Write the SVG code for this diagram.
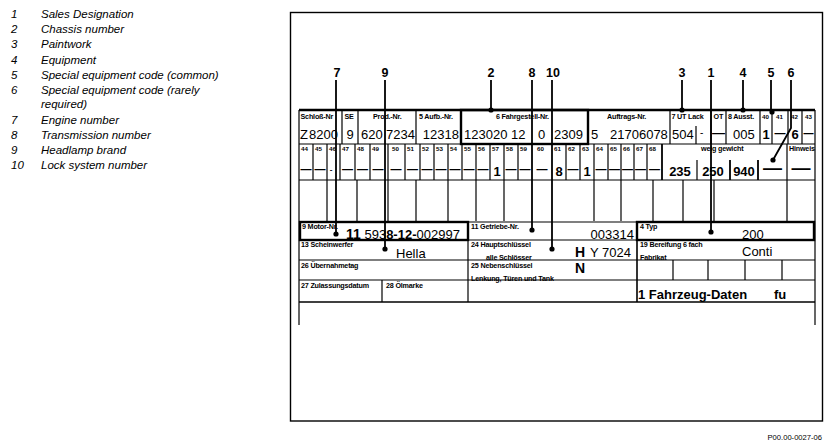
<svg xmlns="http://www.w3.org/2000/svg" width="836" height="448" viewBox="0 0 836 448">
<style>
text{font-family:"Liberation Sans",Arial,sans-serif;fill:#000}
.leg{font-size:11.5px;font-style:italic}
.num{font-size:12.5px;font-weight:bold;text-anchor:middle}
.lbl{font-size:7.2px;font-weight:bold;letter-spacing:-0.2px}
.nl{font-size:6.2px;font-weight:bold}
.val{font-size:13px}
.b{font-weight:bold}
.c{text-anchor:middle}
.r{text-anchor:end}
.d{font-size:11px;font-weight:bold;text-anchor:middle}
.dl{font-weight:bold;text-anchor:middle}
.ln{stroke:#000;stroke-width:1.2;fill:none}
.th{stroke:#000;stroke-width:2.4;fill:none}
.ld{stroke:#000;stroke-width:1.8;fill:none}
.dot{fill:#000}
</style>
<rect width="836" height="448" fill="#fff"/>

<g id="legend">
<g id="leg1"><text class="leg" x="11" y="18">1</text><text class="leg" x="41" y="18">Sales Designation</text></g>
<g id="leg2"><text class="leg" x="11" y="33">2</text><text class="leg" x="41" y="33">Chassis number</text></g>
<g id="leg3"><text class="leg" x="11" y="48">3</text><text class="leg" x="41" y="48">Paintwork</text></g>
<g id="leg4"><text class="leg" x="11" y="64">4</text><text class="leg" x="41" y="64">Equipment</text></g>
<g id="leg5"><text class="leg" x="11" y="79">5</text><text class="leg" x="41" y="79">Special equipment code (common)</text></g>
<g id="leg6"><text class="leg" x="11" y="94">6</text><text class="leg" x="41" y="94">Special equipment code (rarely</text><text class="leg" x="41" y="108">required)</text></g>
<g id="leg7"><text class="leg" x="11" y="124">7</text><text class="leg" x="41" y="124">Engine number</text></g>
<g id="leg8"><text class="leg" x="11" y="139">8</text><text class="leg" x="41" y="139">Transmission number</text></g>
<g id="leg9"><text class="leg" x="11" y="154">9</text><text class="leg" x="41" y="154">Headlamp brand</text></g>
<g id="leg10"><text class="leg" x="11" y="169">10</text><text class="leg" x="41" y="169">Lock system number</text></g>
</g>

<g id="frame">
<rect x="290.5" y="12.5" width="532" height="408.5" fill="none" stroke="#000" stroke-width="1.4"/>
<text x="822" y="440" style="font-size:7.6px" fill="#222" class="r">P00.00-0027-06</text>
</g>

<g id="form">
<line class="ln" x1="299" y1="110" x2="299" y2="325" stroke-width="1.6"/>
<line class="ln" x1="815" y1="110" x2="815" y2="325" stroke-width="1.6"/>
<line class="th" x1="299" y1="110" x2="815" y2="110" stroke-width="1.8"/>
<line class="ln" x1="299" y1="144" x2="815" y2="144" stroke-width="1.6"/>
<g class="ln" stroke-width="1.8">
<line x1="342" y1="110" x2="342" y2="144"/>
<line x1="358" y1="110" x2="358" y2="144"/>
<line x1="416" y1="110" x2="416" y2="144"/>
<line x1="670" y1="110" x2="670" y2="144"/>
<line x1="696" y1="126" x2="696" y2="144"/>
<line x1="711" y1="110" x2="711" y2="144"/>
<line x1="726" y1="110" x2="726" y2="144"/>
<line x1="760" y1="110" x2="760" y2="144"/>
<line x1="772" y1="110" x2="772" y2="144"/>
<line x1="788" y1="110" x2="788" y2="144"/>
<line x1="802" y1="110" x2="802" y2="144"/>
</g>
<rect class="th" x="461" y="110" width="127" height="34"/>

<text class="lbl" x="300.5" y="119">Schloß-Nr</text>
<text class="lbl" x="344.5" y="119">SE</text>
<text class="lbl" x="373" y="119">Prod.-Nr.</text>
<text class="lbl" x="419" y="119">5 Aufb.-Nr.</text>
<text class="lbl" x="496" y="119">6 Fahrgestell-Nr.</text>
<text class="lbl" x="607" y="119">Auftrags-Nr.</text>
<text class="lbl" x="671.5" y="119">7 UT Lack</text>
<text class="lbl" x="713.5" y="119">OT</text>
<text class="lbl" x="728" y="119">8 Ausst.</text>
<text class="nl" x="762" y="119">40</text>
<text class="nl" x="776" y="119">41</text>
<text class="nl" x="791" y="119">42</text>
<text class="nl" x="805" y="119">43</text>

<text class="val" x="300" y="139">Z</text>
<text class="val" x="309" y="139">8200</text>
<text class="val c" x="350" y="139">9</text>
<text class="val" x="361" y="139">620</text>
<text class="val" x="386" y="139">7234</text>
<text class="val r" x="459" y="139">12318</text>
<text class="val" x="464" y="139">123020  12</text>
<text class="val" x="538" y="139">0</text>
<text class="val" x="554" y="139">2309</text>
<text class="val" x="591" y="139">5</text>
<text class="val" x="610" y="139">21706078</text>
<text class="val" x="672" y="139">504</text>
<text x="700" y="136" style="font-size:10px">-</text>
<text class="dl" x="718.5" y="137" style="font-size:13px">—</text>
<text class="val" x="733" y="139">005</text>
<text class="val c b" x="766" y="139">1</text>
<text class="dl" x="780" y="137" style="font-size:11px">—</text>
<text class="val c b" x="795" y="139">6</text>
<text class="dl" x="808.5" y="137" style="font-size:10px">—</text>

<line class="ln" x1="299" y1="180" x2="815" y2="180" stroke-width="1.4"/>
<g class="ln">
<line x1="313" y1="144" x2="313" y2="180"/>
<line x1="327" y1="144" x2="327" y2="221"/>
<line x1="340" y1="144" x2="340" y2="180"/>
<line x1="355" y1="144" x2="355" y2="180"/>
<line x1="370" y1="144" x2="370" y2="180"/>
<line x1="388" y1="144" x2="388" y2="221"/>
<line x1="405" y1="144" x2="405" y2="180"/>
<line x1="420" y1="144" x2="420" y2="180"/>
<line x1="434" y1="144" x2="434" y2="180"/>
<line x1="448" y1="144" x2="448" y2="221"/>
<line x1="462" y1="144" x2="462" y2="180"/>
<line x1="476" y1="144" x2="476" y2="221"/>
<line x1="490" y1="144" x2="490" y2="180"/>
<line x1="504" y1="144" x2="504" y2="221"/>
<line x1="518" y1="144" x2="518" y2="180"/>
<line x1="566" y1="144" x2="566" y2="180"/>
<line x1="580" y1="144" x2="580" y2="180"/>
<line x1="594" y1="144" x2="594" y2="221"/>
<line x1="608" y1="144" x2="608" y2="180"/>
<line x1="621" y1="144" x2="621" y2="221"/>
<line x1="634" y1="144" x2="634" y2="180"/>
<line x1="647" y1="144" x2="647" y2="180"/>
<line x1="662" y1="144" x2="662" y2="180" stroke-width="1.8"/>
<line x1="697" y1="160" x2="697" y2="180"/>
<line x1="730" y1="160" x2="730" y2="180" stroke-width="1.8"/>
<line x1="758" y1="160" x2="758" y2="180" stroke-width="1.8"/>
<line x1="787" y1="144" x2="787" y2="221"/>
<line x1="357" y1="180" x2="357" y2="221"/>
<line x1="416" y1="180" x2="416" y2="221"/>
<line x1="653" y1="180" x2="653" y2="221"/>
<line x1="683" y1="180" x2="683" y2="221"/>
<line x1="714" y1="180" x2="714" y2="221"/>
</g>

<g class="nl">
<text x="301" y="151">44</text><text x="315" y="151">45</text><text x="329" y="151">46</text>
<text x="342" y="151">47</text><text x="357" y="151">48</text><text x="372" y="151">49</text>
<text x="392" y="151">50</text><text x="407" y="151">51</text><text x="422" y="151">52</text>
<text x="436" y="151">53</text><text x="450" y="151">54</text><text x="464" y="151">55</text>
<text x="478" y="151">56</text><text x="492" y="151">57</text><text x="506" y="151">58</text>
<text x="520" y="151">59</text><text x="537" y="151">60</text><text x="554" y="151">61</text>
<text x="568" y="151">62</text><text x="582" y="151">63</text><text x="596" y="151">64</text>
<text x="610" y="151">65</text><text x="623" y="151">66</text><text x="636" y="151">67</text>
<text x="649" y="151">68</text>
</g>
<text class="lbl" x="701" y="151">weig gewicht</text>
<text class="lbl" x="789" y="151">Hinweis</text>

<g>
<text class="d" x="306" y="173">—</text><text class="d" x="320" y="173">—</text><text class="d" x="331" y="172" style="font-size:8px">-</text>
<text class="d" x="347.5" y="173">—</text><text class="d" x="362.5" y="173">—</text><text class="d" x="378" y="173">—</text>
<text class="d" x="396" y="173">—</text><text class="d" x="412.5" y="173">—</text><text class="d" x="427" y="173">—</text>
<text class="d" x="441" y="173">—</text><text class="d" x="455" y="173">—</text><text class="d" x="469" y="173">—</text>
<text class="d" x="483" y="173">—</text><text class="val c b" x="497" y="176">1</text><text class="d" x="511" y="173">—</text>
<text class="d" x="525" y="173">—</text><text class="d" x="542" y="173">—</text><text class="val c b" x="559" y="176">8</text>
<text class="d" x="573" y="173">—</text><text class="val c b" x="587" y="176">1</text><text class="d" x="601" y="173">—</text>
<text class="d" x="614.5" y="173">—</text><text class="d" x="627.5" y="173">—</text><text class="d" x="640.5" y="173">—</text>
<text class="d" x="654.5" y="173">—</text>
<text class="val c b" x="680" y="176">235</text>
<text class="val c b" x="713" y="176">250</text>
<text class="val c b" x="744" y="176">940</text>
<text class="dl" x="772.5" y="174" style="font-size:19px">—</text>
<text class="dl" x="801" y="174" style="font-size:19px">—</text>
</g>

<line class="ln" x1="468" y1="222" x2="637" y2="222"/>
<line class="ln" x1="468" y1="240" x2="637" y2="240"/>
<rect class="th" x="300" y="222" width="168" height="18"/>
<rect class="th" x="637" y="222" width="177" height="18"/>
<text class="lbl" x="302" y="229">9 Motor-Nr.</text>
<text class="lbl" x="471" y="229">11 Getriebe-Nr.</text>
<text class="lbl" x="640" y="229">4 Typ</text>
<text class="val" x="346" y="238.5"><tspan class="b" style="font-size:14px">11</tspan> 593<tspan class="b">8-12-</tspan>002997</text>
<text class="val r" x="634" y="238.5">003314</text>
<text class="val" x="742" y="238.5">200</text>

<g class="ln">
<line x1="299" y1="260" x2="815" y2="260"/>
<line x1="299" y1="280" x2="815" y2="280"/>
<line x1="299" y1="302" x2="815" y2="302" stroke-width="1.4"/>
<line x1="468" y1="240" x2="468" y2="302"/>
<line x1="637" y1="240" x2="637" y2="302" stroke-width="1.6"/>
<line x1="382" y1="280" x2="382" y2="302"/>
<line x1="673" y1="260" x2="673" y2="280"/>
<line x1="708" y1="260" x2="708" y2="280"/>
<line x1="745" y1="260" x2="745" y2="280"/>
<line x1="782" y1="260" x2="782" y2="280"/>
</g>
<text class="lbl" x="301" y="247">13 Scheinwerfer</text>
<text class="val" x="396" y="258">Hella</text>
<text class="lbl" x="471" y="247">24 Hauptschlüssel</text>
<text class="lbl" x="486" y="260">alle Schlösser</text>
<text class="val b" x="575" y="257" style="font-size:14px">H</text>
<text class="val" x="590" y="257">Y 7024</text>
<text class="val b" x="575" y="273" style="font-size:14px">N</text>
<text class="lbl" x="640" y="247">19 Bereifung 6 fach</text>
<text class="lbl" x="640" y="259.5">Fabrikat</text>
<text class="val" x="742" y="256">Conti</text>
<text class="lbl" x="301" y="268">26 Übernahmetag</text>
<text class="lbl" x="471" y="268">25 Nebenschlüssel</text>
<text class="lbl" x="471" y="280.5">Lenkung, Türen und Tank</text>
<text class="lbl" x="301" y="288">27 Zulassungsdatum</text>
<text class="lbl" x="386" y="288">28 Ölmarke</text>
<text class="val b" x="638" y="298.5">1 Fahrzeug-Daten</text>
<text class="val b" x="774" y="298.5">fu</text>
</g>

<g id="connectors">
<g class="ld">
<line x1="336" y1="80" x2="336" y2="234"/>
<line x1="385" y1="80" x2="385" y2="249"/>
<line x1="491" y1="80" x2="491" y2="110"/>
<line x1="532" y1="80" x2="532" y2="230"/>
<line x1="552" y1="80" x2="552" y2="249"/>
<line x1="682" y1="80" x2="682" y2="110"/>
<line x1="711" y1="80" x2="711" y2="232"/>
<line x1="743" y1="80" x2="743" y2="110"/>
<line x1="771" y1="80" x2="771" y2="112"/>
<polyline points="791,80 791,128 773,160"/>
</g>
<g class="dot">
<circle cx="336" cy="234" r="2.6"/>
<circle cx="385" cy="249" r="2.6"/>
<circle cx="491" cy="110" r="2.6"/>
<circle cx="532" cy="230" r="2.6"/>
<circle cx="552" cy="249" r="2.6"/>
<circle cx="682" cy="110" r="2.6"/>
<circle cx="711" cy="232" r="2.6"/>
<circle cx="743" cy="110" r="2.6"/>
<circle cx="772" cy="112" r="2.6"/>
<circle cx="773" cy="160" r="2.6"/>
</g>
<g id="callouts">
<text class="num" x="337" y="77">7</text>
<text class="num" x="385" y="77">9</text>
<text class="num" x="491" y="77">2</text>
<text class="num" x="532" y="77">8</text>
<text class="num" x="553" y="77">10</text>
<text class="num" x="682" y="77">3</text>
<text class="num" x="711" y="77">1</text>
<text class="num" x="743" y="77">4</text>
<text class="num" x="771" y="77">5</text>
<text class="num" x="791" y="77">6</text>
</g>
</g>
</svg>
